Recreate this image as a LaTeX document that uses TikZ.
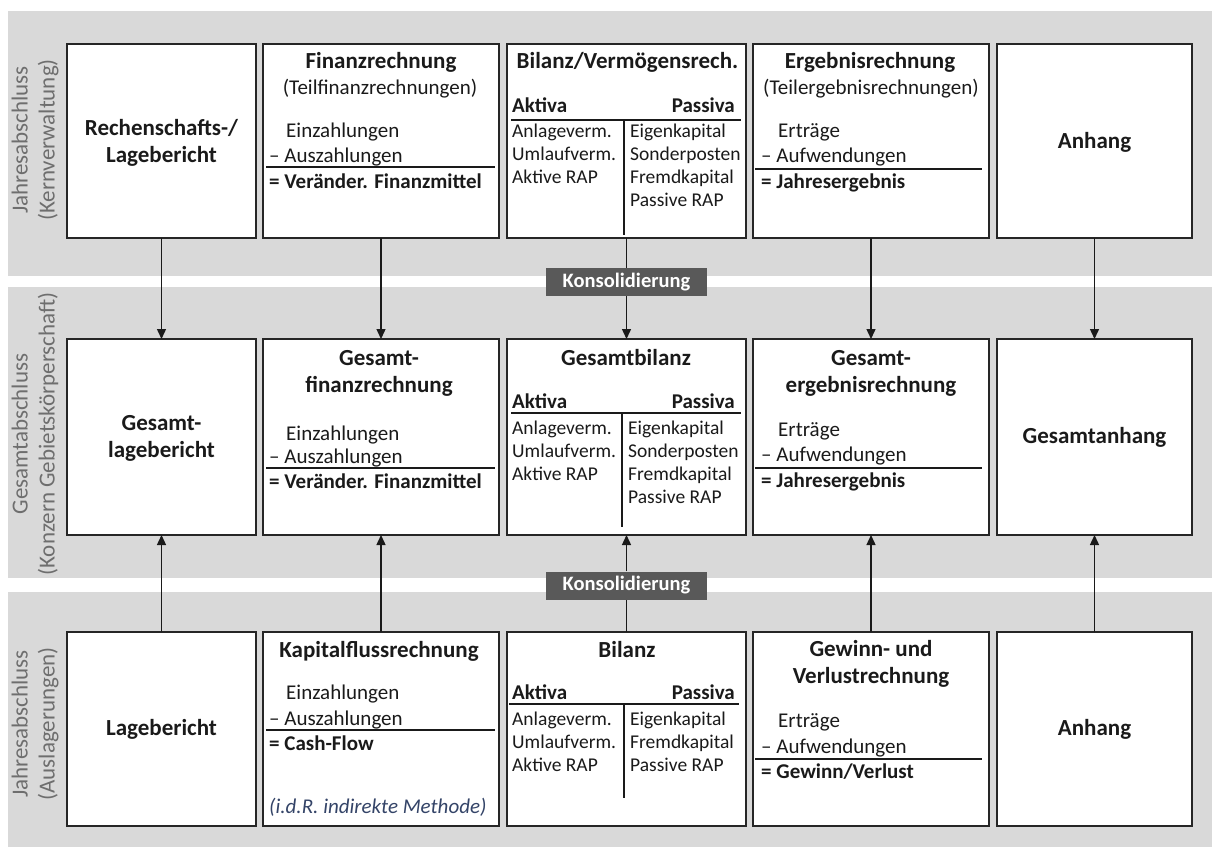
\documentclass[tikz,border=0pt]{standalone}
\usepackage{fontspec}
\setmainfont{Carlito}
\usepackage{xcolor}
\definecolor{band}{RGB}{217,217,217}
\definecolor{coal}{RGB}{26,26,26}
\definecolor{frame}{RGB}{38,38,38}
\definecolor{sidegray}{RGB}{110,110,110}
\definecolor{slate}{RGB}{89,89,89}
\definecolor{note}{RGB}{52,68,104}
\usepackage{tikz}
\usetikzlibrary{arrows.meta}

\begin{document}
\begin{tikzpicture}[x=1pt,y=-1pt,
  bx/.style={draw=frame,line width=2pt,fill=white,minimum height=194pt,
             inner sep=0pt,outer sep=0pt,anchor=north west},
  ttl/.style={font=\fontsize{23}{27}\selectfont\bfseries,text=coal,
              align=center,inner sep=0pt,anchor=base},
  txt/.style={font=\fontsize{21}{25}\selectfont,text=coal,
              inner sep=0pt,anchor=base west},
  subt/.style={txt,anchor=base},
  total/.style={txt,font=\fontsize{21}{25}\selectfont\bfseries},
  bal/.style={font=\fontsize{19.5}{23.3}\selectfont,text=coal,
              inner sep=0pt,anchor=base west,align=left},
  kons/.style={fill=slate,text=white,font=\fontsize{20.5}{24}\selectfont\bfseries,
               minimum width=161pt,minimum height=28pt,inner sep=0pt},
  lbl/.style={text=sidegray,font=\fontsize{23}{27}\selectfont,
              align=center,rotate=90,inner sep=0pt},
  ar/.style={-{Triangle[length=10pt,width=9pt]},line width=1.4pt,coal},
  ln/.style={line width=1.6pt,coal},
]
  \useasboundingbox (0,0) rectangle (1212,847);
  \fill[band] (8,11) rectangle (1212,276);
  \fill[band] (8,287) rectangle (1212,578);
  \fill[band] (8,592) rectangle (1212,847);

  \node[lbl] (s1) at (35,140) {Jahresabschluss\\(Kernverwaltung)};
  \node[lbl] (s2) at (35,434) {Gesamtabschluss\\(Konzern Gebietskörperschaft)};
  \node[lbl] (s3) at (35,724) {Jahresabschluss\\(Auslagerungen)};

  % Kernverwaltung
  \node[bx,minimum width=189pt] (k1) at (67,44) {};
  \node[bx,minimum width=236pt] (k2) at (263,44) {};
  \node[bx,minimum width=239pt] (k3) at (507,44) {};
  \node[bx,minimum width=236pt] (k4) at (753,44) {};
  \node[bx,minimum width=195pt] (k5) at (997,44) {};

  \node[ttl] (k1t) at (161.5,162) {Rechenschafts-/\\Lagebericht};
  \node[ttl] (k2t) at (381,68) {Finanzrechnung};
  \node[subt] (k2s) at (380,94) {(Teilfinanzrechnungen)};
  \node[txt] (k2e) at (286,137) {Einzahlungen};
  \node[txt] (k2a) at (269,162) {– Auszahlungen};
  \draw[ln] (266,167) -- (495,167);
  \node[total] (k2r) at (269,188) {= Veränder. Finanzmittel};
  \node[ttl] (k3t) at (627.5,68) {Bilanz/Vermögensrech.};
  \node[total] (k3l) at (512,112) {Aktiva};
  \node[total,anchor=base east] (k3r) at (735,112) {Passiva};
  \draw[ln] (511,120) -- (741,120) (624,120) -- (624,235);
  \node[bal] (k3a) at (512,183.6) {Anlageverm.\\Umlaufverm.\\Aktive RAP};
  \node[bal] (k3p) at (630,206.9) {Eigenkapital\\Sonderposten\\Fremdkapital\\Passive RAP};
  \node[ttl] (k4t) at (870,68) {Ergebnisrechnung};
  \node[subt] (k4s) at (871,94) {(Teilergebnisrechnungen)};
  \node[txt] (k4e) at (778,137) {Erträge};
  \node[txt] (k4a) at (761,162) {– Aufwendungen};
  \draw[ln] (755,169) -- (982,169);
  \node[total] (k4r) at (761,188) {= Jahresergebnis};
  \node[ttl] (k5t) at (1094.5,148) {Anhang};

  % Gesamtabschluss
  \node[bx,minimum width=189pt,minimum height=196pt] (g1) at (67,339) {};
  \node[bx,minimum width=236pt,minimum height=196pt] (g2) at (263,339) {};
  \node[bx,minimum width=239pt,minimum height=196pt] (g3) at (507,339) {};
  \node[bx,minimum width=236pt,minimum height=196pt] (g4) at (753,339) {};
  \node[bx,minimum width=195pt,minimum height=196pt] (g5) at (997,339) {};

  \node[ttl] (g1t) at (161.5,457) {Gesamt-\\lagebericht};
  \node[ttl] (g2t) at (379,392) {Gesamt-\\finanzrechnung};
  \node[txt] (g2e) at (286,440) {Einzahlungen};
  \node[txt] (g2a) at (269,463) {– Auszahlungen};
  \draw[ln] (266,468) -- (495,468);
  \node[total] (g2r) at (269,488) {= Veränder. Finanzmittel};
  \node[ttl] (g3t) at (626,365) {Gesamtbilanz};
  \node[total] (g3l) at (512,408) {Aktiva};
  \node[total,anchor=base east] (g3r) at (735,408) {Passiva};
  \draw[ln] (511,413) -- (741,413) (622,413) -- (622,527);
  \node[bal] (g3a) at (512,480.6) {Anlageverm.\\Umlaufverm.\\Aktive RAP};
  \node[bal] (g3p) at (628,503.9) {Eigenkapital\\Sonderposten\\Fremdkapital\\Passive RAP};
  \node[ttl] (g4t) at (871,392) {Gesamt-\\ergebnisrechnung};
  \node[txt] (g4e) at (778,436) {Erträge};
  \node[txt] (g4a) at (761,461) {– Aufwendungen};
  \draw[ln] (755,468) -- (982,468);
  \node[total] (g4r) at (761,487) {= Jahresergebnis};
  \node[ttl] (g5t) at (1094.5,443) {Gesamtanhang};

  % Auslagerungen
  \node[bx,minimum width=189pt] (a1) at (67,632) {};
  \node[bx,minimum width=236pt] (a2) at (263,632) {};
  \node[bx,minimum width=239pt] (a3) at (507,632) {};
  \node[bx,minimum width=236pt] (a4) at (753,632) {};
  \node[bx,minimum width=195pt] (a5) at (997,632) {};

  \node[ttl] (a1t) at (161.5,735) {Lagebericht};
  \node[ttl] (a2t) at (379,657) {Kapitalflussrechnung};
  \node[txt] (a2e) at (286,699) {Einzahlungen};
  \node[txt] (a2a) at (269,725) {– Auszahlungen};
  \draw[ln] (266,730) -- (495,730);
  \node[total] (a2r) at (269,750) {= Cash-Flow};
  \node[txt,text=note,font=\fontsize{21}{25}\selectfont\itshape] (a2n) at (269,813) {(i.d.R. indirekte Methode)};
  \node[ttl] (a3t) at (627,657) {Bilanz};
  \node[total] (a3l) at (512,699) {Aktiva};
  \node[total,anchor=base east] (a3r) at (735,699) {Passiva};
  \draw[ln] (509,704) -- (739,704) (624,704) -- (624,798);
  \node[bal] (a3a) at (512,771.6) {Anlageverm.\\Umlaufverm.\\Aktive RAP};
  \node[bal] (a3p) at (630,771.6) {Eigenkapital\\Fremdkapital\\Passive RAP};
  \node[ttl] (a4t) at (871,683) {Gewinn- und\\Verlustrechnung};
  \node[txt] (a4e) at (778,727) {Erträge};
  \node[txt] (a4a) at (761,753) {– Aufwendungen};
  \draw[ln] (755,759) -- (982,759);
  \node[total] (a4r) at (761,778) {= Gewinn/Verlust};
  \node[ttl] (a5t) at (1094.5,735) {Anhang};

  \node[kons] (kons1) at (626.5,282) {Konsolidierung};
  \node[kons] (kons2) at (626.5,585.5) {Konsolidierung};

  \draw[ar] (k1) -- (g1);
  \draw[ar] (k2) -- (g2);
  \draw[ln,line width=1.4pt] (k3) -- (kons1);
  \draw[ar] (kons1) -- (g3);
  \draw[ar] (k4) -- (g4);
  \draw[ar] (k5) -- (g5);
  \draw[ar] (a1) -- (g1);
  \draw[ar] (a2) -- (g2);
  \draw[ln,line width=1.4pt] (a3) -- (kons2);
  \draw[ar] (kons2) -- (g3);
  \draw[ar] (a4) -- (g4);
  \draw[ar] (a5) -- (g5);
\end{tikzpicture}
\end{document}
